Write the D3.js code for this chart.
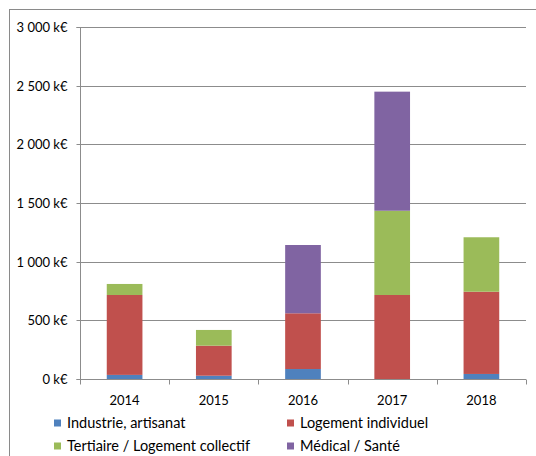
<!DOCTYPE html>
<html>
<head>
<meta charset="utf-8">
<script src="https://cdn.jsdelivr.net/npm/d3@7"></script>
<style>
  html, body { margin: 0; padding: 0; background: #fff; }
  svg { display: block; font-family: Lato, "Open Sans", sans-serif; }
</style>
</head>
<body>
<svg id="chart" width="536" height="456"></svg>
<script>
// Chiffre d'affaires par secteur (k€)
const years = ["2014", "2015", "2016", "2017", "2018"];
const seriesNames = ["Industrie, artisanat", "Logement individuel", "Tertiaire / Logement collectif", "Médical / Santé"];
const industrie = [35, 28, 85, 0, 43];
const logementIndividuel = [681, 256, 475, 716, 701];
const tertiaire = [94, 134, 0, 718, 464];
const medical = [0, 0, 582, 1015, 0];
const yTicks = [0, 500, 1000, 1500, 2000, 2500, 3000];
const colors = ["#4F81BD", "#C0504D", "#9BBB59", "#8064A2"];

const seriesValues = [industrie, logementIndividuel, tertiaire, medical];
const rows = years.map((yr, i) => {
  const r = { year: yr };
  seriesNames.forEach((n, s) => { r[n] = seriesValues[s][i]; });
  return r;
});

const svg = d3.select("#chart");
const plotLeft = 80, plotRight = 526, plotTop = 27, plotBottom = 379;

// outer chart frame
svg.append("rect")
  .attr("x", 9.5).attr("y", 9.5)
  .attr("width", 600).attr("height", 600)
  .attr("fill", "none").attr("stroke", "#8a8a8a").attr("stroke-width", 1);

const x = d3.scaleBand().domain(years).range([plotLeft, plotRight]).paddingInner(0).paddingOuter(0);
const y = d3.scaleLinear().domain([0, 3000]).range([plotBottom, plotTop]);
const fmt = v => d3.format(",")(v).replace(/,/g, "\u202F") + " k€";

// horizontal gridlines
svg.append("g").selectAll("line").data(yTicks.filter(t => t > 0)).join("line")
  .attr("x1", plotLeft).attr("x2", plotRight)
  .attr("y1", d => Math.round(y(d)) + 0.5).attr("y2", d => Math.round(y(d)) + 0.5)
  .attr("stroke", "#8c8c8c").attr("stroke-width", 1);

// stacked bars
const stack = d3.stack().keys(seriesNames)(rows);
const barW = x.bandwidth() * 0.4;
svg.append("g").selectAll("g").data(stack).join("g")
  .attr("fill", (d, i) => colors[i])
  .selectAll("rect").data(d => d).join("rect")
  .attr("x", d => x(d.data.year) + (x.bandwidth() - barW) / 2)
  .attr("width", barW)
  .attr("y", d => y(d[1]))
  .attr("height", d => y(d[0]) - y(d[1]));

// y axis
const yAxis = svg.append("g")
  .attr("transform", `translate(${plotLeft + 0.5},0)`)
  .call(d3.axisLeft(y).tickValues(yTicks).tickSize(4).tickPadding(9).tickFormat(fmt));
yAxis.select(".domain").attr("stroke", "#8c8c8c").attr("d", `M-4,${plotTop + 0.5}H0V${plotBottom + 0.5}H-4`);
yAxis.selectAll(".tick line").attr("stroke", "#8c8c8c");
yAxis.selectAll(".tick").attr("transform", d => `translate(0,${Math.round(y(d)) + 0.5})`);
yAxis.selectAll("text").attr("fill", "#000").style("font-size", "13px").style("font-family", "Lato, sans-serif");

// x axis
const xAxis = svg.append("g").attr("transform", `translate(0,${plotBottom + 0.5})`);
xAxis.append("line").attr("x1", plotLeft).attr("x2", plotRight).attr("stroke", "#8c8c8c");
xAxis.selectAll("line.t").data(years.concat(["end"])).join("line").attr("class", "t")
  .attr("x1", (d, i) => Math.round(plotLeft + i * x.step()) + 0.5)
  .attr("x2", (d, i) => Math.round(plotLeft + i * x.step()) + 0.5)
  .attr("y1", 0).attr("y2", 5).attr("stroke", "#8c8c8c");
xAxis.selectAll("text").data(years).join("text")
  .attr("x", d => x(d) + x.bandwidth() / 2)
  .attr("y", 25)
  .attr("text-anchor", "middle")
  .style("font-size", "13px")
  .text(d => d);

// legend
const legendPos = [[54, 423], [287, 423], [54, 446], [287, 446]];
const lg = svg.append("g").selectAll("g").data(seriesNames).join("g")
  .attr("transform", (d, i) => `translate(${legendPos[i][0]},${legendPos[i][1]})`);
lg.append("rect").attr("x", 0).attr("y", -3.5).attr("width", 7).attr("height", 7)
  .attr("fill", (d, i) => colors[i]);
lg.append("text").attr("x", 13).attr("y", 0).attr("dy", "0.35em")
  .style("font-size", "14.5px").text(d => d);
</script>
</body>
</html>
